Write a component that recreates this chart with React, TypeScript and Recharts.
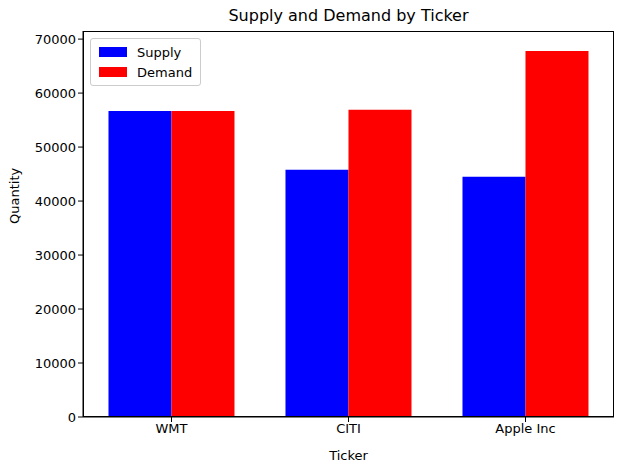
import { BarChart, Bar, XAxis, YAxis } from 'recharts'

const tickers = ['WMT', 'CITI', 'Apple Inc']
const supply = [56700, 45800, 44500]
const demand = [56700, 56900, 67800]
const yTicks = [0, 10000, 20000, 30000, 40000, 50000, 60000, 70000]

const data = tickers.map((t, i) => ({ ticker: t, Supply: supply[i], Demand: demand[i] }))

const font = 'DejaVu Sans, sans-serif'
const tickStyle = { fontSize: 13, fill: '#000', fontFamily: font }

function LegendBox() {
  const items = [{ name: 'Supply', color: '#0000ff' }, { name: 'Demand', color: '#ff0000' }]
  return (
    <div style={{ position: 'absolute', left: 90, top: 38, border: '1px solid #ccc', borderRadius: 3, background: '#fff', padding: '3px 8px', fontFamily: font, fontSize: 13 }}>
      {items.map(it => (
        <div key={it.name} style={{ display: 'flex', alignItems: 'center', height: 20 }}>
          <span style={{ width: 28, height: 10, background: it.color, marginRight: 10 }} />
          {it.name}
        </div>
      ))}
    </div>
  )
}

export default function App() {
  return (
    <div style={{ position: 'absolute', left: 0, top: 0, width: 630, height: 470, background: '#fff' }}>
      <div style={{ position: 'absolute', top: 6, left: 83, width: 531, textAlign: 'center', fontFamily: font, fontSize: 16 }}>
        Supply and Demand by Ticker
      </div>
      <BarChart width={630} height={470} data={data} margin={{ top: 31, right: 16, left: 0, bottom: 0 }}
        barCategoryGap="14.4%" barGap={0}>
        <XAxis dataKey="ticker" tick={tickStyle} tickLine={{ stroke: '#000' }} axisLine={{ stroke: '#000' }}
          tickSize={5} height={53}
          label={{ value: 'Ticker', position: 'insideBottom', offset: 10, fontSize: 13, fill: '#000', fontFamily: font }} />
        <YAxis domain={[0, 71500]} ticks={yTicks} tick={tickStyle} tickLine={{ stroke: '#000' }}
          axisLine={{ stroke: '#000' }} tickSize={5} width={83} interval={0}
          label={{ value: 'Quantity', angle: -90, position: 'insideLeft', offset: 14, fontSize: 13, fill: '#000', fontFamily: font }} />
        <Bar dataKey="Supply" fill="#0000ff" isAnimationActive={false} />
        <Bar dataKey="Demand" fill="#ff0000" isAnimationActive={false} />
      </BarChart>
      <LegendBox />
      <div style={{ position: 'absolute', left: 83, top: 31, width: 531, height: 386, border: '1px solid #000', boxSizing: 'border-box', pointerEvents: 'none' }} />
    </div>
  )
}
